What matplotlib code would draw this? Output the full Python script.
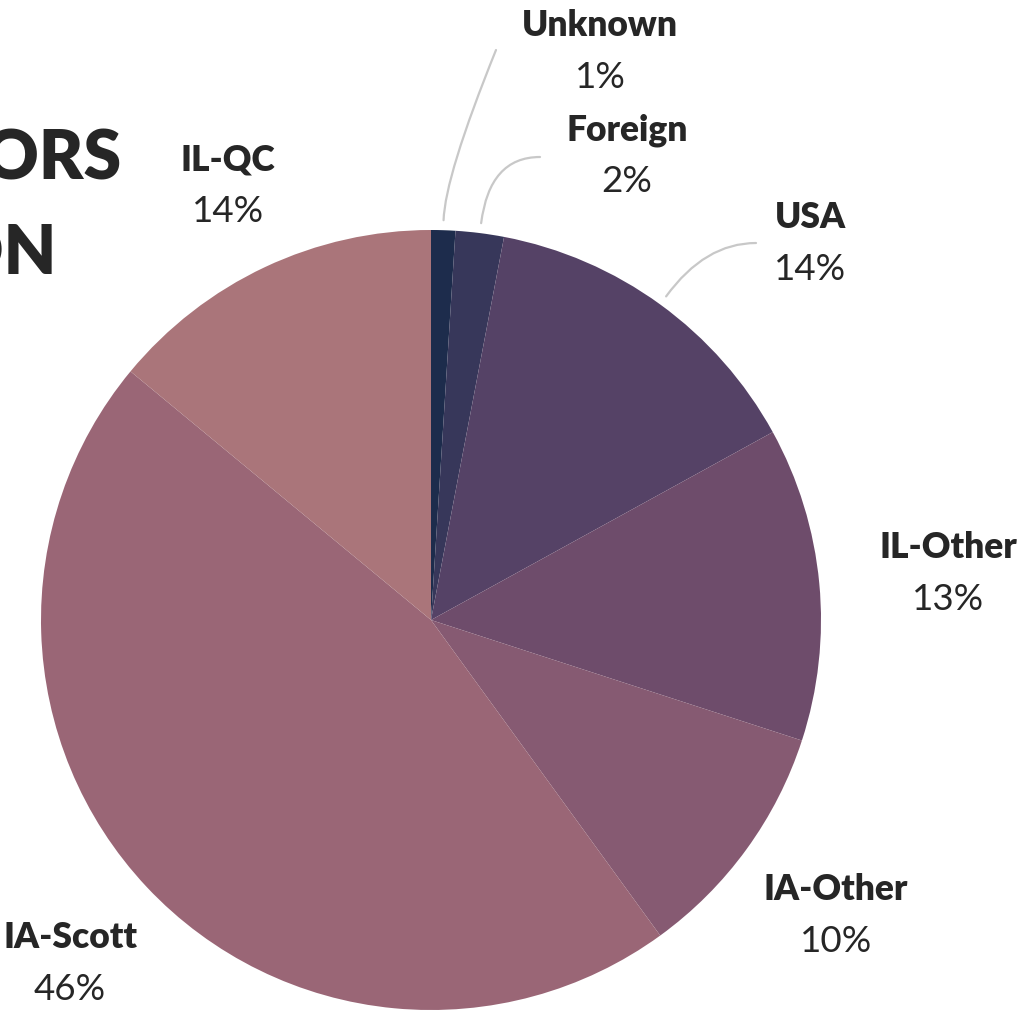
import matplotlib
matplotlib.use("Agg")
import matplotlib.pyplot as plt
import numpy as np

plt.rcParams['font.family'] = ['Lato', 'DejaVu Sans']

categories = ["Unknown", "Foreign", "USA", "IL-Other", "IA-Other", "IA-Scott", "IL-QC"]
values = [1, 2, 14, 13, 10, 46, 14]
pct_labels = ["1%", "2%", "14%", "13%", "10%", "46%", "14%"]
colors = ["#1d2c4c", "#37375a", "#554266", "#6e4c6b", "#865a72", "#9a6676", "#aa757a"]

W, H = 1017, 1011
fig = plt.figure(figsize=(W / 100, H / 100), dpi=100)
ax = fig.add_axes([0, 0, 1, 1])

cx, cy, R = 431, H - 620, 390
wedges, _ = ax.pie(values, colors=colors, startangle=90, counterclock=False,
                   center=(cx, cy), radius=R,
                   wedgeprops=dict(linewidth=0, antialiased=True))
ax.set_xlim(0, W)
ax.set_ylim(0, H)
ax.set_aspect('equal')
ax.axis('off')

txt_col = "#262626"

# label positions in pixels (from top-left): (x_center, y_name)
label_pos = {
    "Unknown": (600, 25),
    "Foreign": (627, 130),
    "USA": (810, 217),
    "IL-Other": (948, 547),
    "IA-Other": (836, 890),
    "IA-Scott": (70, 937),
    "IL-QC": (228, 160),
}
for cat, pct in zip(categories, pct_labels):
    px, py = label_pos[cat]
    ax.text(px, H - py, cat, ha='center', va='center', fontsize=25.5,
            fontweight='heavy', color=txt_col)
    ax.text(px, H - py - 52, pct, ha='center', va='center', fontsize=26.5,
            color=txt_col)

# leader lines for the small / top slices
leaders = {
    "Unknown": ((496, 50), 68),
    "Foreign": ((540, 157), 0),
    "USA": ((756, 243), 0),
}
for w, cat in zip(wedges, categories):
    if cat not in leaders:
        continue
    mid = np.deg2rad((w.theta1 + w.theta2) / 2)
    sx = cx + (R + 10) * np.cos(mid)
    sy = cy + (R + 10) * np.sin(mid)
    (ex, ey), angA = leaders[cat]
    ax.annotate("", xy=(sx, sy), xytext=(ex, H - ey),
                arrowprops=dict(arrowstyle='-', color='#c8c8c8', lw=1.6,
                                shrinkA=0, shrinkB=0,
                                connectionstyle=f"angle3,angleA={angA},angleB={np.rad2deg(mid):.1f}"))

# title (partially off-canvas, as in the reference)
fig.text(122 / W, 1 - 160 / H, "VISITORS", ha='right', va='center',
         fontsize=49, fontweight='heavy', color=txt_col)
fig.text(56 / W, 1 - 255 / H, "BY REGION", ha='right', va='center',
         fontsize=49, fontweight='heavy', color=txt_col)

fig.savefig("out.png", dpi=100, facecolor='white')
